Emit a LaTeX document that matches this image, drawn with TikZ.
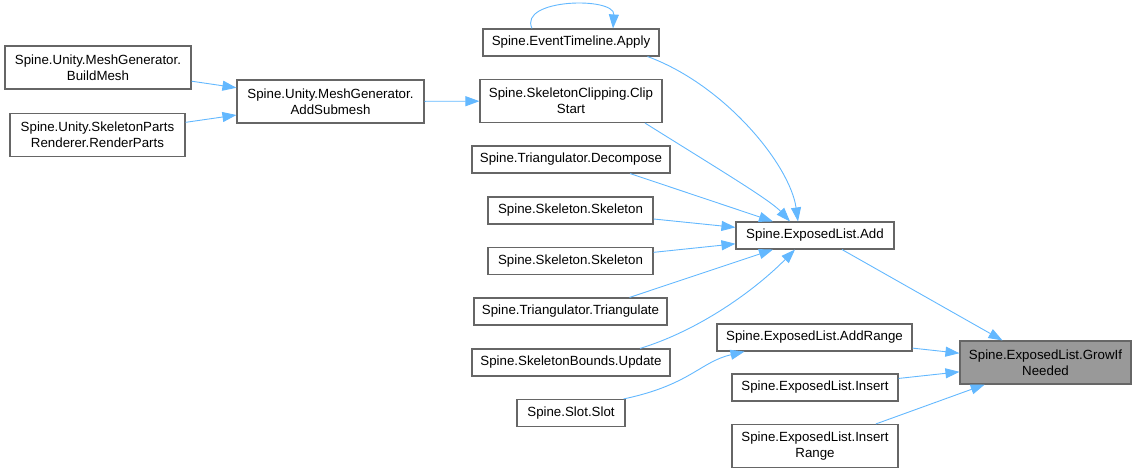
\documentclass[tikz,border=0pt]{standalone}
\usepackage{fontspec}
\setmainfont{Liberation Sans}
\usepackage{tikz}
\usetikzlibrary{arrows.meta,positioning,calc}
\definecolor{edgeblue}{HTML}{63B8FF}
\definecolor{boxgray}{HTML}{666666}
\definecolor{rootgray}{HTML}{999999}
\tikzset{
  >={Triangle[length=14pt,width=10pt]},
  % anropsgraf
  cn/.style={rectangle,draw=boxgray,fill=white,line width=1.1pt,inner sep=0pt,
             minimum height=27pt,align=center,
             font=\fontsize{13.3}{15.8}\selectfont},
  cn2/.style={cn,minimum height=43pt},
  root/.style={cn2,fill=rootgray},
  ce/.style={->,draw=edgeblue,line width=0.9pt},
}

\begin{document}
\begin{tikzpicture}[x=1pt,y=-1pt]
\useasboundingbox (0,0) rectangle (1136,473);
  % vänster kolumn
  \node[cn2,minimum width=186pt] (buildmesh) at (98,67.5) {Spine.Unity.MeshGenerator.\\BuildMesh};
  \node[cn2,minimum width=175pt] (renderparts) at (97.5,135) {Spine.Unity.SkeletonParts\\Renderer.RenderParts};
  \node[cn2,minimum width=187pt] (addsubmesh) at (330.5,101.5) {Spine.Unity.MeshGenerator.\\AddSubmesh};
  % mittkolumn
  \node[cn,minimum width=176pt] (apply) at (571,42.5) {Spine.EventTimeline.Apply};
  \node[cn2,minimum width=182pt] (clipstart) at (571,101) {Spine.SkeletonClipping.Clip\\Start};
  \node[cn,minimum width=198pt] (decompose) at (571,159.5) {Spine.Triangulator.Decompose};
  \node[cn,minimum width=165pt] (skel1) at (570.5,210.5) {Spine.Skeleton.Skeleton};
  \node[cn,minimum width=165pt] (skel2) at (570.5,261) {Spine.Skeleton.Skeleton};
  \node[cn,minimum width=193pt] (triangulate) at (570.5,311.5) {Spine.Triangulator.Triangulate};
  \node[cn,minimum width=198pt] (bounds) at (571,362.5) {Spine.SkeletonBounds.Update};
  \node[cn,minimum width=108pt] (slot) at (571,413) {Spine.Slot.Slot};
  % ExposedList
  \node[cn,minimum width=158pt] (add) at (815,235.5) {Spine.ExposedList.Add};
  \node[cn,minimum width=195pt] (addrange) at (814.5,337.5) {Spine.ExposedList.AddRange};
  \node[cn,minimum width=166pt] (insert) at (815,387.5) {Spine.ExposedList.Insert};
  \node[cn2,minimum width=166pt] (insertrange) at (815,446) {Spine.ExposedList.Insert\\Range};
  \node[root,minimum width=171pt] (grow) at (1045.5,362.5) {Spine.ExposedList.GrowIf\\Needed};

  \draw[ce] (buildmesh) -- (addsubmesh);
  \draw[ce] (renderparts) -- (addsubmesh);
  \draw[ce] (addsubmesh) -- (clipstart);
  \draw[ce] ([xshift=-39pt]apply.north) .. controls +(-14,-30) and +(2,-32) .. ([xshift=42pt]apply.north);
  \draw[ce] ([xshift=-12pt]apply.south east) .. controls (725,85) and (790,165) .. ([xshift=-17pt]add.north);
  \draw[ce] ([xshift=74pt]clipstart.south) .. controls (720,170) and (770,200) .. ([xshift=-25pt]add.north);
  \draw[ce] ([xshift=59pt]decompose.south) -- ([xshift=-42pt]add.north);
  \draw[ce] (skel1) -- (add);
  \draw[ce] (skel2) -- (add);
  \draw[ce] ([xshift=59pt]triangulate.north) -- ([xshift=-42pt]add.south);
  \draw[ce] ([xshift=69pt]bounds.north) .. controls (700,330) and (755,290) .. ([xshift=-20pt]add.south);
  \draw[ce] ([xshift=-2pt]slot.north east) .. controls (690,385) and (700,362) .. ([xshift=-70pt]addrange.south);
  \draw[ce] ([xshift=27pt]add.south) -- ([xshift=-43pt]grow.north);
  \draw[ce] (addrange) -- (grow);
  \draw[ce] (insert) -- (grow);
  \draw[ce] (insertrange) -- (grow);
\end{tikzpicture}
\end{document}
